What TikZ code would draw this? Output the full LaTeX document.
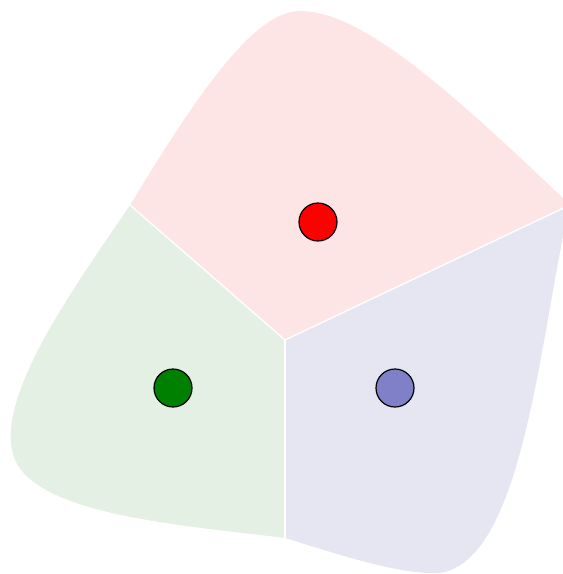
\documentclass[tikz,border=0pt]{standalone}
\usetikzlibrary{calc}
\definecolor{pinkfill}{RGB}{253,229,229}
\definecolor{greenfill}{RGB}{229,240,229}
\definecolor{bluefill}{RGB}{230,230,243}
\definecolor{dkgreen}{RGB}{0,128,0}
\definecolor{dotblue}{RGB}{128,128,200}
\tikzset{
  site/.style={circle, draw=black, line width=1.2pt, minimum size=38pt, inner sep=0pt},
  border/.style={draw=white, line width=1.3pt}
}
\begin{document}
\begin{tikzpicture}[x=1pt, y=-1pt]
\useasboundingbox (0,0) rectangle (563,574);
\clip (0,0) rectangle (563,574);
\coordinate (C) at (285,340);
\coordinate (L) at (130,205);
\coordinate (R) at (570,205);
\coordinate (B) at (285,538);
\begin{scope}
\clip (L) .. controls (193,102) and (252,11) .. (300,11)
  .. controls (360,11) and (445,85) .. (R)
  .. controls (540,330) and (525,560) .. (440,573)
  .. controls (400,575) and (340,555) .. (B)
  .. controls (180,525) and (40,515) .. (15,460)
  .. controls (-10,400) and (80,280) .. (L) -- cycle;
\fill[pinkfill] (C) -- ($(C)!2.5!(L)$) -- (0,-50) -- (620,-50) -- ($(C)!1.3!(R)$) -- cycle;
\fill[bluefill] (C) -- ($(C)!1.3!(R)$) -- (620,620) -- ($(C)!1.3!(B)$) -- cycle;
\fill[greenfill] (C) -- ($(C)!1.3!(B)$) -- (-50,620) -- ($(C)!2.5!(L)$) -- cycle;
\draw[border] (C) -- ($(C)!2.5!(L)$);
\draw[border] (C) -- ($(C)!1.3!(R)$);
\draw[border] (C) -- ($(C)!1.3!(B)$);
\end{scope}
\node[site, fill=red] (r) at (318,222) {};
\node[site, fill=dkgreen] (g) at (173,388) {};
\node[site, fill=dotblue] (b) at (395,388) {};
\end{tikzpicture}
\end{document}
